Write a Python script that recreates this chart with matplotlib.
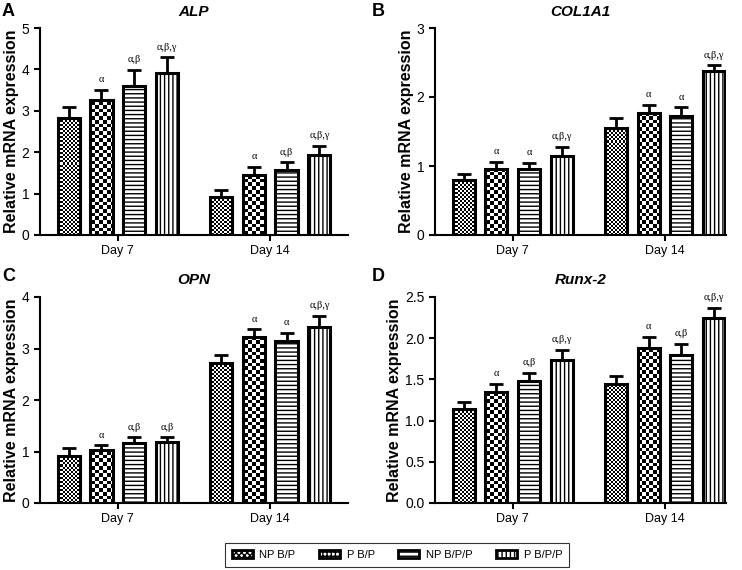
import numpy as np
import matplotlib
matplotlib.use('Agg')
import matplotlib.pyplot as plt
from matplotlib.patches import Patch

plt.rcParams['font.family'] = ['Liberation Sans', 'DejaVu Sans']
plt.rcParams['hatch.linewidth'] = 1.0

groups = ['NP B/P', 'P B/P', 'NP B/P/P', 'P B/P/P']
days = ['Day 7', 'Day 14']

genes = ['ALP', 'COL1A1', 'OPN', 'Runx-2']
letters = ['A', 'B', 'C', 'D']

# mean values [day7 x4, day14 x4] per gene
alp_mean = [[2.82, 3.27, 3.60, 3.91], [0.91, 1.45, 1.57, 1.93]]
alp_err = [[0.28, 0.24, 0.39, 0.38], [0.18, 0.20, 0.19, 0.23]]
col_mean = [[0.80, 0.95, 0.95, 1.14], [1.55, 1.77, 1.72, 2.37]]
col_err = [[0.09, 0.11, 0.10, 0.14], [0.14, 0.12, 0.13, 0.09]]
opn_mean = [[0.92, 1.02, 1.17, 1.18], [2.71, 3.23, 3.14, 3.42]]
opn_err = [[0.14, 0.10, 0.11, 0.10], [0.16, 0.14, 0.16, 0.21]]
runx_mean = [[1.14, 1.35, 1.48, 1.73], [1.44, 1.88, 1.80, 2.25]]
runx_err = [[0.09, 0.10, 0.10, 0.13], [0.10, 0.14, 0.13, 0.12]]

alp_sig = [['', 'α', 'α,β', 'α,β,γ'], ['', 'α', 'α,β', 'α,β,γ']]
col_sig = [['', 'α', 'α', 'α,β,γ'], ['', 'α', 'α', 'α,β,γ']]
opn_sig = [['', 'α', 'α,β', 'α,β'], ['', 'α', 'α', 'α,β,γ']]
runx_sig = [['', 'α', 'α,β', 'α,β,γ'], ['', 'α', 'α,β', 'α,β,γ']]

means = [alp_mean, col_mean, opn_mean, runx_mean]
errs = [alp_err, col_err, opn_err, runx_err]
sigs = [alp_sig, col_sig, opn_sig, runx_sig]
ymax = [5, 3, 4, 2.5]
yticks = [np.arange(0, 6, 1), np.arange(0, 4, 1), np.arange(0, 5, 1), np.arange(0, 3.0, 0.5)]

W, H = 742, 570
rects = [(40, 235, 308, 207), (435, 235, 291, 207), (40, 503, 308, 206), (435, 503, 291, 206)]
xlims = [(-0.51, 1.51), (-0.51, 1.40), (-0.51, 1.51), (-0.51, 1.40)]
letter_pos = [(2, 3), (372, 3), (2, 268), (372, 268)]

offsets = np.array([-0.322, -0.107, 0.107, 0.322])
bw = 0.145
hatches = [None, None, '----', '||||']


def checker_img(ax, cell):
    bb = ax.get_window_extent()
    nx = int(round(bb.width / cell))
    ny = int(round(bb.height / cell))
    return np.indices((ny, nx)).sum(axis=0) % 2


fig = plt.figure(figsize=(W / 100, H / 100), dpi=100)

for k in range(4):
    x0, yb, w, h = rects[k]
    ax = fig.add_axes([x0 / W, (H - yb) / H, w / W, h / H])
    ax.set_autoscale_on(False)
    ax.set_xlim(*xlims[k])
    ax.set_ylim(0, ymax[k])
    imgs = [checker_img(ax, 2.0), checker_img(ax, 3.7)]
    for d in range(2):
        for g in range(4):
            xc = d + offsets[g]
            v = means[k][d][g]
            e = errs[k][d][g]
            if g < 2:
                bar = ax.bar(xc, v, bw, color='white', edgecolor='none', zorder=2)[0]
                im = ax.imshow(imgs[g], cmap='gray', extent=(0, 1, 0, 1), transform=ax.transAxes,
                               interpolation='nearest', aspect='auto', zorder=2.5)
                im.set_clip_path(bar)
                ax.bar(xc, v, bw, fill=False, edgecolor='black', linewidth=2.2, zorder=3)
            else:
                ax.bar(xc, v, bw, color='white', edgecolor='black', linewidth=2.2,
                       hatch=hatches[g], zorder=3)
            ax.errorbar(xc, v, yerr=[[0], [e]], fmt='none', ecolor='black', elinewidth=2,
                        capsize=4.7, capthick=2, zorder=1)
            if sigs[k][d][g]:
                ax.annotate(sigs[k][d][g], (xc, v + e), xytext=(0, 4), textcoords='offset points',
                            ha='center', va='bottom', fontsize=7.5, family='Liberation Serif')
    ax.set_xlim(*xlims[k])
    ax.set_ylim(0, ymax[k])
    ax.set_xticks([0, 1])
    ax.set_xticklabels(days, fontsize=9)
    ax.set_yticks(yticks[k])
    if k == 3:
        ax.set_yticklabels(['%.1f' % t for t in yticks[k]], fontsize=10)
    else:
        ax.set_yticklabels(['%d' % t for t in yticks[k]], fontsize=10)
    ax.tick_params(direction='out', length=4, width=1.5)
    for s in ['top', 'right']:
        ax.spines[s].set_visible(False)
    for s in ['left', 'bottom']:
        ax.spines[s].set_linewidth(1.5)
    ax.set_ylabel('Relative mRNA expression', fontsize=11.5, fontweight='bold', labelpad=2)
    ax.set_title(genes[k], fontsize=11, fontweight='bold', fontstyle='italic', pad=9)
    lx, ly = letter_pos[k]
    fig.text(lx / W, 1 - ly / H, letters[k], fontsize=13, fontweight='bold', va='top', ha='left')

handles = [
    Patch(facecolor='white', edgecolor='black', linewidth=2, hatch='xxxxxx', label=groups[0]),
    Patch(facecolor='white', edgecolor='black', linewidth=2, hatch='++++', label=groups[1]),
    Patch(facecolor='white', edgecolor='black', linewidth=2, hatch='----', label=groups[2]),
    Patch(facecolor='white', edgecolor='black', linewidth=2, hatch='||||', label=groups[3]),
]
leg = fig.legend(handles=handles, loc='center', bbox_to_anchor=(397 / W, 1 - 555 / H), ncol=4,
                 fontsize=8, frameon=True, fancybox=False, edgecolor='black', handlelength=1.9,
                 handleheight=0.8, columnspacing=2.1, handletextpad=0.6, borderpad=0.6)
leg.get_frame().set_linewidth(0.8)

fig.savefig('out.png', dpi=100)
